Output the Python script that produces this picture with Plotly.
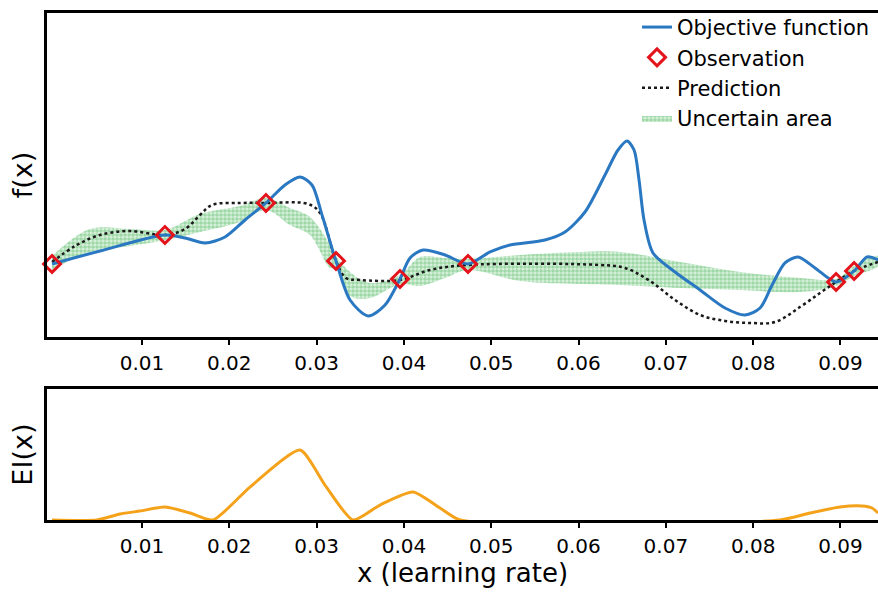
import plotly.graph_objects as go

# ---------------- data ----------------
obj_x = [-0.0003, 0.0052, 0.01263, 0.01493, 0.01722, 0.01951, 0.0218, 0.0242, 0.02638, 0.0281,
         0.02947, 0.03062, 0.03222, 0.03383, 0.03589, 0.03784, 0.03955, 0.0407, 0.04219, 0.04471,
         0.04734, 0.04986, 0.05215, 0.05616, 0.05845, 0.06074, 0.06303, 0.06452, 0.06556, 0.06636,
         0.06693, 0.0675, 0.06853, 0.07105, 0.07392, 0.07678, 0.07907, 0.08079, 0.08217, 0.08365,
         0.08514, 0.08709, 0.0895, 0.09156, 0.09305, 0.09431]
obj_f = [0.73, 0.86, 1.02, 0.99, 0.94, 1.00, 1.17, 1.34, 1.52, 1.60,
         1.52, 1.22, 0.76, 0.37, 0.21, 0.32, 0.58, 0.79, 0.87, 0.82,
         0.73, 0.85, 0.92, 0.97, 1.05, 1.25, 1.62, 1.87, 1.96, 1.87,
         1.57, 1.17, 0.84, 0.65, 0.47, 0.29, 0.22, 0.29, 0.52, 0.74,
         0.80, 0.69, 0.55, 0.66, 0.80, 0.77]

obs_x = [-0.0003, 0.01263, 0.0242, 0.03222, 0.03955, 0.04734, 0.0895, 0.09156]
obs_f = [0.73, 1.02, 1.34, 0.76, 0.58, 0.73, 0.55, 0.66]

pred_x = [-0.0003, 0.00233, 0.00519, 0.00863, 0.01263, 0.01493, 0.01664, 0.01802, 0.02123, 0.0242,
          0.02901, 0.03039, 0.03222, 0.03337, 0.03497, 0.03955, 0.04299, 0.04734, 0.06246, 0.06532,
          0.06819, 0.07105, 0.07392, 0.07678, 0.07965, 0.08251, 0.08537, 0.08766, 0.0895, 0.09156,
          0.09431]
pred_f = [0.75, 0.91, 1.02, 1.06, 1.02, 1.08, 1.22, 1.32, 1.34, 1.34,
          1.33, 1.24, 0.76, 0.59, 0.57, 0.57, 0.67, 0.72, 0.72, 0.69,
          0.56, 0.37, 0.22, 0.16, 0.14, 0.15, 0.30, 0.44, 0.55, 0.66,
          0.75]

band_x = [-0.0003, 0.00404, 0.00863, 0.01263, 0.01664, 0.02123, 0.0242, 0.02695, 0.02924, 0.03154,
          0.03222, 0.03383, 0.03612, 0.03955, 0.04184, 0.04471, 0.04734, 0.0533, 0.06017, 0.06475,
          0.07163, 0.0785, 0.08537, 0.0895, 0.09156, 0.09431]
band_upper = [0.81, 1.08, 1.08, 1.07, 1.23, 1.31, 1.39, 1.29, 1.20, 0.92,
              0.81, 0.65, 0.54, 0.62, 0.80, 0.79, 0.78, 0.82, 0.85, 0.85,
              0.75, 0.65, 0.59, 0.58, 0.71, 0.81]
band_lower = [0.67, 0.85, 0.91, 0.97, 1.05, 1.15, 1.27, 1.12, 1.02, 0.69,
              0.69, 0.41, 0.39, 0.53, 0.51, 0.59, 0.67, 0.56, 0.53, 0.52,
              0.49, 0.47, 0.45, 0.51, 0.61, 0.71]

ei_x = [-0.0003, 0.00485, 0.00748, 0.00977, 0.01263, 0.0155, 0.01813, 0.02237, 0.0281, 0.03096,
        0.03417, 0.03726, 0.04104, 0.04414, 0.04643, 0.08308, 0.08652, 0.08995, 0.09247, 0.09362,
        0.09431]
ei_v = [0.0, 0.0, 0.06, 0.09, 0.13, 0.07, 0.0, 0.33, 0.70, 0.35,
        0.0, 0.15, 0.28, 0.12, 0.0, 0.0, 0.07, 0.13, 0.14, 0.12,
        0.07]

tick_vals = [0.01, 0.02, 0.03, 0.04, 0.05, 0.06, 0.07, 0.08, 0.09]
tick_text = ["0.01", "0.02", "0.03", "0.04", "0.05", "0.06", "0.07", "0.08", "0.09"]

# ---------------- figure ----------------
FONT = "DejaVu Sans, Arial, sans-serif"
fig = go.Figure()

fig.add_trace(go.Scatter(
    x=band_x + band_x[::-1], y=band_upper + band_lower[::-1],
    fill="toself", mode="lines", line=dict(width=0, shape="spline"),
    fillcolor="#ffffff",
    fillpattern=dict(shape=".", fgcolor="#5fbf70", bgcolor="#dcf1df", size=4, solidity=0.65),
    name="Uncertain area", legendrank=4, xaxis="x", yaxis="y", hoverinfo="skip"))

fig.add_trace(go.Scatter(
    x=pred_x, y=pred_f, mode="lines", name="Prediction", legendrank=3,
    line=dict(color="#1a1a1a", width=2.5, dash="dot", shape="spline"),
    xaxis="x", yaxis="y"))

fig.add_trace(go.Scatter(
    x=obj_x, y=obj_f, mode="lines", name="Objective function", legendrank=1,
    line=dict(color="#2a78c2", width=3, shape="spline", smoothing=0.8),
    xaxis="x", yaxis="y"))

fig.add_trace(go.Scatter(
    x=obs_x, y=obs_f, mode="markers", name="Observation", legendrank=2,
    marker=dict(symbol="diamond-open", size=13, color="#e3141c", line=dict(width=3, color="#e3141c")),
    cliponaxis=False, xaxis="x", yaxis="y"))

fig.add_trace(go.Scatter(
    x=ei_x, y=ei_v, mode="lines", name="EI", showlegend=False,
    line=dict(color="#f5a21b", width=3, shape="spline", smoothing=0.6),
    xaxis="x2", yaxis="y2"))

axis_common = dict(
    range=[-0.00088, 0.0943], showline=True, linecolor="black", linewidth=2.5, mirror=True,
    ticks="outside", ticklen=5, tickwidth=2, tickcolor="black", ticklabelstandoff=1,
    tickvals=tick_vals, ticktext=tick_text, showgrid=False, zeroline=False, automargin=False,
    tickfont=dict(family=FONT, size=20, color="black"))

yaxis_common = dict(showline=True, linecolor="black", linewidth=2.5, mirror=True,
                    showticklabels=False, ticks="", showgrid=False, zeroline=False, automargin=False)

fig.update_layout(
    width=878, height=601,
    margin=dict(l=47, r=0, t=13, b=81, autoexpand=False),
    paper_bgcolor="white", plot_bgcolor="white",
    font=dict(family=FONT, color="black"),
    showlegend=True,
    legend=dict(x=0.71, xanchor="left", y=1.012, yanchor="top", bgcolor="rgba(0,0,0,0)",
                font=dict(family=FONT, size=21, color="black"), tracegroupgap=0,
                itemwidth=30),
    xaxis=dict(domain=[0, 1], anchor="y", **axis_common),
    xaxis2=dict(domain=[0, 1], anchor="y2", **axis_common,
                title=dict(text="x (learning rate)", font=dict(family=FONT, size=26), standoff=5)),
    yaxis=dict(domain=[0.361, 1.0], range=[0, 3.24], **yaxis_common,
               title=dict(text="f(x)", font=dict(family=FONT, size=27), standoff=4)),
    yaxis2=dict(domain=[0.0, 0.258], range=[0, 1.31], **yaxis_common,
                title=dict(text="EI(x)", font=dict(family=FONT, size=27), standoff=4)),
)

fig.write_html("out.html", config={"displayModeBar": False},
               post_script="document.body.style.margin='0';document.body.style.overflow='hidden';")
